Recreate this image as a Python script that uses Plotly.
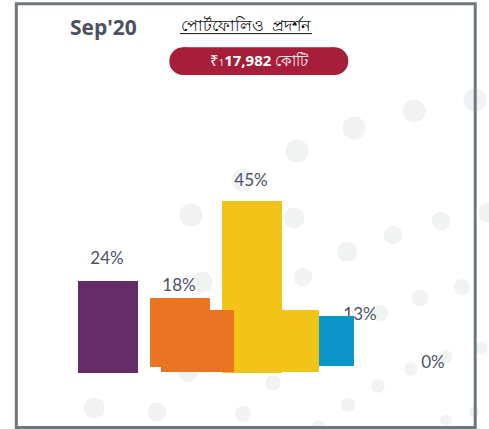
import plotly.graph_objects as go

# ---------------- data ----------------
segments = ["Segment 1", "Segment 2", "Segment 3", "Segment 4", "Segment 5"]
share_pct = [24, 18, 45, 13, 0]                 # labelled values
trail_segments = ["Segment 2", "Segment 3"]     # bars still moving (transition frame)
trail_pct = [16.2, 16.2]
period_label = "Sep'20"
title_text = "পোর্টফোলিও  প্রদর্শন"
aum_text = "₹<span style='font-size:9px'>1</span><b>17,982</b> কোটি"

# ---------------- layout / style constants ----------------
W, H = 489, 429
SLOT_PX, SLOT0_PX = 72.0, 108.0
ZERO_PX, PX_PER_PCT = 372.7, 3.82
xr = [(0 - SLOT0_PX) / SLOT_PX, (W - SLOT0_PX) / SLOT_PX]
yr = [-(H - ZERO_PX) / PX_PER_PCT, ZERO_PX / PX_PER_PCT]

colors = ["#652c67", "#e97424", "#f2c41a", "#0a96c8", "#9aa0a6"]
bar_pos = [0, 1, 2, 3.174, 4.514]
bar_width = [0.833, 0.833, 0.833, 0.486, 0.5]
bar_base = [0, 1.6, 0, 1.83, 0]
trail_pos = [1.243, 2.674]
trail_width = [1.014, 0.514]
trail_base = [0.26, 0.26]
trail_colors = ["#e97424", "#f2c41a"]
label_pos = [-0.014, 0.986, 1.986, 3.5, 4.514]
label_lift = [6.2, 3.6, 5.6, 0.7, 3.0]

label_y = [v + b + l for v, b, l in zip(share_pct, bar_base, label_lift)]

fig = go.Figure()

# main bars
fig.add_trace(go.Bar(
    x=bar_pos, y=share_pct, base=bar_base, width=bar_width,
    marker=dict(color=colors, line=dict(width=0)),
    hovertext=segments, showlegend=False))

# transition bars
fig.add_trace(go.Bar(
    x=trail_pos, y=trail_pct, base=trail_base, width=trail_width,
    marker=dict(color=trail_colors, line=dict(width=0)),
    hovertext=trail_segments, showlegend=False))


def px(x):
    return x / W


def py(y):
    return 1 - y / H


shapes = []
# background dots
dots = [(243, 180, 11.5), (191, 215, 11.5), (297, 151, 11.5), (354, 128, 11.5),
        (414, 111, 11.5), (475, 100, 11.5), (294, 218, 10.5), (393, 235, 9.3),
        (441, 221, 9.3), (347, 252, 10), (488, 213, 10), (202, 282, 10.5),
        (188, 373, 9.5), (94, 408, 10.5), (157, 412, 9.5), (243, 414, 8),
        (303, 277, 9.3), (420, 298, 8.2), (462, 287, 8), (481, 348, 6.7),
        (380, 313, 8.3), (446, 357, 6.7), (411, 369, 6.7), (378, 386, 6.7),
        (273, 383, 7.8), (348, 405, 7), (319, 426, 6.3), (446, 420, 5.8),
        (474, 412, 5.5)]
for cx, cy, r in dots:
    shapes.append(dict(type="circle", xref="paper", yref="paper",
                       x0=px(cx - r), x1=px(cx + r), y0=py(cy + r), y1=py(cy - r),
                       fillcolor="#f1f2f2", line=dict(width=0), layer="below"))

# value labels, drawn beneath the bars
for xv, yv, v in zip(label_pos, label_y, share_pct):
    shapes.append(dict(type="rect", xref="x", yref="y",
                       x0=xv - 0.3, x1=xv + 0.3, y0=yv - 2, y1=yv + 2,
                       line=dict(width=0), fillcolor="rgba(0,0,0,0)", layer="below",
                       label=dict(text=f"{v}%", textposition="middle center",
                                  font=dict(family="Lato", size=17, color="#4d5265"))))

# frame
shapes.append(dict(type="rect", xref="paper", yref="paper",
                   x0=px(16.3), x1=px(475.2), y0=py(427.6), y1=py(3.7),
                   line=dict(color="#6e777e", width=3), fillcolor="rgba(0,0,0,0)",
                   layer="above"))

# pill
pl, pr, pt, pb = 169.3, 348.3, 47.3, 75.0
rr = (pb - pt) / 2
pill_col = "#a61e3a"
shapes.append(dict(type="rect", xref="paper", yref="paper",
                   x0=px(pl + rr), x1=px(pr - rr), y0=py(pb), y1=py(pt),
                   fillcolor=pill_col, line=dict(width=0), layer="above"))
for cx in (pl + rr, pr - rr):
    shapes.append(dict(type="circle", xref="paper", yref="paper",
                       x0=px(cx - rr), x1=px(cx + rr), y0=py(pb), y1=py(pt),
                       fillcolor=pill_col, line=dict(width=0), layer="above"))

# underline of the title
shapes.append(dict(type="line", xref="paper", yref="paper",
                   x0=px(180), x1=px(312), y0=py(33.6), y1=py(33.6),
                   line=dict(color="#111111", width=1), layer="above"))

annotations = [
    dict(text=f"<b>{period_label}</b>", x=px(103), y=py(27), xref="paper", yref="paper",
         showarrow=False, xanchor="center", yanchor="middle",
         font=dict(family="Open Sans", size=21, color="#4b5062")),
    dict(text=title_text, x=px(246), y=py(25), xref="paper", yref="paper",
         showarrow=False, xanchor="center", yanchor="middle",
         font=dict(family="Noto Sans", size=16, color="#111111")),
    dict(text=aum_text, x=px(259), y=py(60), xref="paper", yref="paper",
         showarrow=False, xanchor="center", yanchor="middle",
         font=dict(family="Open Sans", size=15, color="#ffffff")),
]

axis_common = dict(visible=False, showgrid=False, zeroline=False, fixedrange=True)
fig.update_layout(
    width=W, height=H, autosize=False,
    margin=dict(l=0, r=0, t=0, b=0, pad=0),
    paper_bgcolor="#ffffff", plot_bgcolor="rgba(0,0,0,0)",
    barmode="overlay", bargap=0,
    xaxis=dict(range=xr, domain=[0, 1], **axis_common),
    yaxis=dict(range=yr, domain=[0, 1], **axis_common),
    shapes=shapes, annotations=annotations, showlegend=False,
)

fig.write_html("out.html", config={"displayModeBar": False},
               post_script="document.body.style.margin='0';document.body.style.overflow='hidden';")
